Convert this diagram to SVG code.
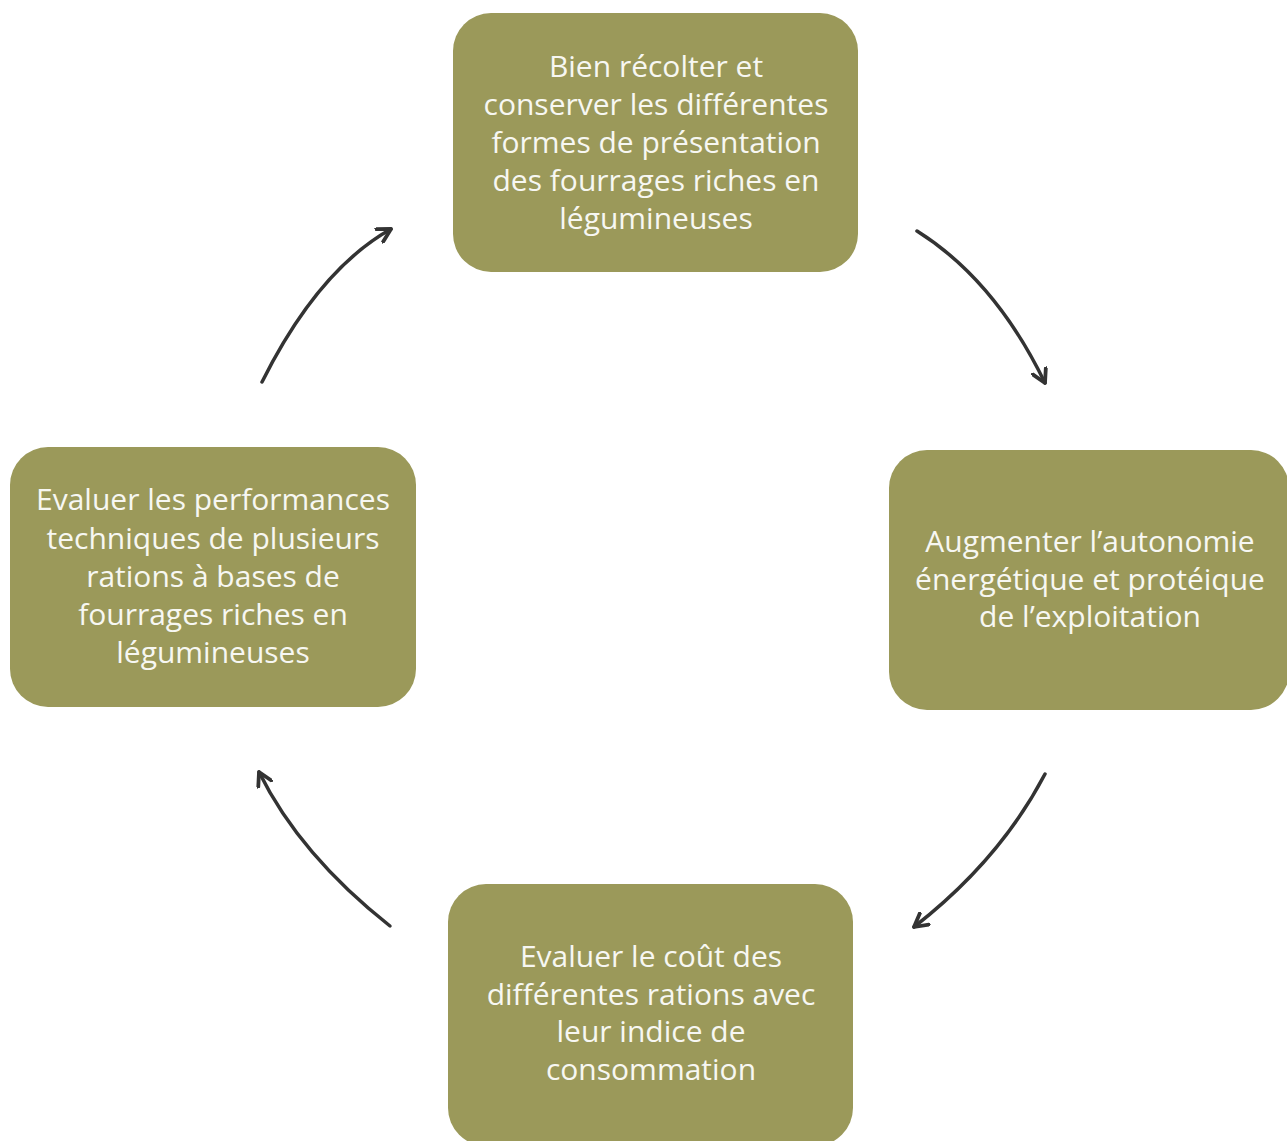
<svg xmlns="http://www.w3.org/2000/svg" width="1287" height="1141" viewBox="0 0 1287 1141">
<style>
.box{fill:#9b995a;}
.t{font-family:"Open Sans","Liberation Sans",sans-serif;font-size:30px;fill:#f7f7f2;text-anchor:middle;}
.c{fill:none;stroke:#333333;stroke-width:3.5;stroke-linecap:round;marker-end:url(#ah);}
</style>
<defs>
<marker id="ah" viewBox="0 0 12 12" refX="10" refY="6" markerWidth="5" markerHeight="5" orient="auto" markerUnits="strokeWidth">
<path d="M1,1 L10,6 L1,11" fill="none" stroke="#333333" stroke-width="2.6" stroke-linecap="round" stroke-linejoin="round"/>
</marker>
</defs>
<rect width="1287" height="1141" fill="#ffffff"/>
<g id="node-top">
<rect class="box" x="453" y="13" width="405" height="259" rx="38"/>
<text class="t" x="656" y="77">Bien récolter et</text>
<text class="t" x="656" y="115">conserver les différentes</text>
<text class="t" x="656" y="153">formes de présentation</text>
<text class="t" x="656" y="191">des fourrages riches en</text>
<text class="t" x="656" y="229">légumineuses</text>
</g>
<g id="node-right">
<rect class="box" x="889" y="450" width="400" height="260" rx="38"/>
<text class="t" x="1090" y="552">Augmenter l’autonomie</text>
<text class="t" x="1090" y="590">énergétique et protéique</text>
<text class="t" x="1090" y="627">de l’exploitation</text>
</g>
<g id="node-bottom">
<rect class="box" x="448" y="884" width="405" height="262" rx="38"/>
<text class="t" x="651" y="967">Evaluer le coût des</text>
<text class="t" x="651" y="1005">différentes rations avec</text>
<text class="t" x="651" y="1042">leur indice de</text>
<text class="t" x="651" y="1080">consommation</text>
</g>
<g id="node-left">
<rect class="box" x="10" y="447" width="406" height="260" rx="38"/>
<text class="t" x="213" y="510">Evaluer les performances</text>
<text class="t" x="213" y="549">techniques de plusieurs</text>
<text class="t" x="213" y="587">rations à bases de</text>
<text class="t" x="213" y="625">fourrages riches en</text>
<text class="t" x="213" y="663">légumineuses</text>
</g>
<g id="connectors">
<path class="c" d="M262,382 Q318,270 391,229"/>
<path class="c" d="M917,231 Q995,280 1045,383"/>
<path class="c" d="M1045,774 Q1000,860 914,927"/>
<path class="c" d="M390,926 Q300,855 259,772"/>
</g>
</svg>
